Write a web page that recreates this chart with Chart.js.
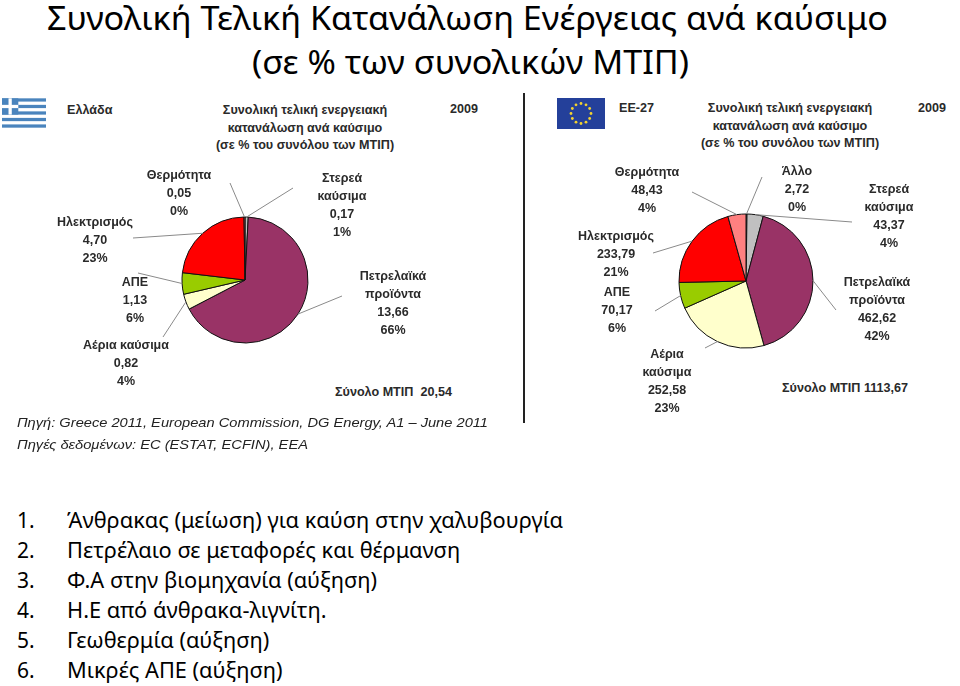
<!DOCTYPE html>
<html>
<head>
<meta charset="utf-8">
<script src="https://cdn.jsdelivr.net/npm/chart.js@4.4.1/dist/chart.umd.min.js"></script>
<style>
  body { margin: 0; background: #fff; }
  #page { position: relative; width: 960px; height: 686px; overflow: hidden; background: #fff; }
  .abs { position: absolute; white-space: nowrap; }
  .fit { display: inline-block; transform-origin: 0 50%; }
  .slide { font-family: "Noto Sans", "Open Sans", sans-serif; color: #000; }
  .box { font-family: "Liberation Sans", Arial, sans-serif; font-weight: bold; font-size: 12.6px; color: #2a2a2a; }
  .src { font-family: "Liberation Sans", Arial, sans-serif; font-style: italic; font-size: 13.5px; color: #222; }
  canvas { position: absolute; }
</style>
</head>
<body>
<div id="page">
  <!-- slide title -->
  <div class="abs slide" style="left:47px; top:-4px; font-size:33px; line-height:44px;"><span class="fit" data-w="841">Συνολική Τελική Κατανάλωση Ενέργειας ανά καύσιμο</span></div>
  <div class="abs slide" style="left:252px; top:40px; font-size:33px; line-height:44px;"><span class="fit" data-w="437">(σε % των συνολικών ΜΤΙΠ)</span></div>

  <!-- Greece panel -->
  <svg class="abs" style="left:2px; top:98px;" width="44" height="30" viewBox="0 0 27 18">
    <rect width="27" height="18" fill="#4a84bd"/>
    <g fill="#fff">
      <rect y="2" width="27" height="2"/><rect y="6" width="27" height="2"/>
      <rect y="10" width="27" height="2"/><rect y="14" width="27" height="2"/>
    </g>
    <rect width="10" height="10" fill="#4a84bd"/>
    <rect x="4" width="2" height="10" fill="#fff"/>
    <rect y="4" width="10" height="2" fill="#fff"/>
  </svg>
  <div class="abs box" style="left:67px; top:103px;">Ελλάδα</div>
  <div class="abs box" style="left:450px; top:102px;">2009</div>
  <div class="abs box" style="left:155px; width:300px; top:102px; text-align:center; line-height:17.5px;">
    Συνολική τελική ενεργειακή<br>κατανάλωση ανά καύσιμο<br>(σε % του συνόλου των ΜΤΙΠ)
  </div>
  <div class="abs box" id="grTotal" style="left:335px; top:385px;"></div>

  <!-- separator -->
  <div class="abs" style="left:523px; top:93px; width:2px; height:330px; background:#222;"></div>

  <!-- EU panel -->
  <svg class="abs" style="left:557px; top:98px;" width="48" height="31" viewBox="0 0 48 31">
    <rect width="48" height="31" fill="#24409a"/>
    <g id="stars" fill="#f2d230"></g>
  </svg>
  <div class="abs box" style="left:619px; top:101px;">ΕΕ-27</div>
  <div class="abs box" style="left:918px; top:101px;">2009</div>
  <div class="abs box" style="left:640px; width:300px; top:100px; text-align:center; line-height:17.5px;">
    Συνολική τελική ενεργειακή<br>κατανάλωση ανά καύσιμο<br>(σε % του συνόλου των ΜΤΙΠ)
  </div>
  <div class="abs box" id="euTotal" style="left:782px; top:381px;"></div>

  <canvas id="grChart" width="520" height="330" style="left:0; top:95px;"></canvas>
  <canvas id="euChart" width="430" height="330" style="left:530px; top:95px;"></canvas>

  <!-- sources -->
  <div class="abs src" style="left:17px; top:415px;"><span class="fit" data-w="471">Πηγή: Greece 2011, European Commission, DG Energy, A1 – June 2011</span></div>
  <div class="abs src" style="left:17px; top:437px;"><span class="fit" data-w="291">Πηγές δεδομένων: EC (ESTAT, ECFIN), EEA</span></div>

  <div id="list"></div>
</div>

<script>
// ---- data ----
const grCategories = ["Στερεά\nκαύσιμα", "Πετρελαϊκά\nπροϊόντα", "Αέρια καύσιμα", "ΑΠΕ", "Ηλεκτρισμός", "Θερμότητα"];
const grValues = [0.17, 13.66, 0.82, 1.13, 4.70, 0.05];
const grPercent = [1, 66, 4, 6, 23, 0];
const grTotal = 20.54;

const euCategories = ["Άλλο", "Στερεά\nκαύσιμα", "Πετρελαϊκά\nπροϊόντα", "Αέρια\nκαύσιμα", "ΑΠΕ", "Ηλεκτρισμός", "Θερμότητα"];
const euValues = [2.72, 43.37, 462.62, 252.58, 70.17, 233.79, 48.43];
const euPercent = [0, 4, 42, 23, 6, 21, 4];
const euTotal = 1113.67;

const notes = [
  "Άνθρακας (μείωση) για καύση στην χαλυβουργία",
  "Πετρέλαιο σε μεταφορές και θέρμανση",
  "Φ.Α στην βιομηχανία (αύξηση)",
  "Η.Ε από άνθρακα-λιγνίτη.",
  "Γεωθερμία (αύξηση)",
  "Μικρές ΑΠΕ (αύξηση)"
];

// ---- styling / layout ----
const fuelColors = {
  "Άλλο": "#d9d9d9",
  "Στερεά": "#c0c0c0",
  "Πετρελαϊκά": "#993366",
  "Αέρια": "#ffffcc",
  "ΑΠΕ": "#99cc00",
  "Ηλεκτρισμός": "#ff0000",
  "Θερμότητα": "#ff8080"
};
const colorFor = c => fuelColors[c.split(/[\n ]/)[0]];

// label block centre (first line) and leader start, page coordinates
const grLabelPos = [
  { x: 342, y: 179, lx: 293, ly: 188 },
  { x: 393, y: 277, lx: 342, ly: 296 },
  { x: 126, y: 346, lx: 163, ly: 337 },
  { x: 135, y: 283, lx: 138, ly: 273 },
  { x: 95,  y: 223, lx: 133, ly: 238 },
  { x: 179, y: 176, lx: 230, ly: 183 }
];
const euLabelPos = [
  { x: 797, y: 172, lx: 762, ly: 177 },
  { x: 889, y: 190, lx: 852, ly: 222 },
  { x: 877, y: 283, lx: 836, ly: 310 },
  { x: 667, y: 355, lx: 705, ly: 348 },
  { x: 617, y: 293, lx: 655, ly: 311 },
  { x: 616, y: 237, lx: 653, ly: 253 },
  { x: 647, y: 173, lx: 692, ly: 192 }
];

const fmt = v => v.toFixed(2).replace('.', ',');

const leaderLabels = {
  id: 'leaderLabels',
  afterDraw(chart, args, opts) {
    const ctx = chart.ctx;
    const meta = chart.getDatasetMeta(0);
    const vals = chart.data.datasets[0].data;
    ctx.save();
    // leader lines
    ctx.strokeStyle = '#8a8a8a';
    ctx.lineWidth = 1;
    meta.data.forEach((arc, i) => {
      const p = opts.pos[i];
      const { x, y, startAngle, endAngle, outerRadius } = arc.getProps(['x', 'y', 'startAngle', 'endAngle', 'outerRadius'], true);
      const mid = (startAngle + endAngle) / 2;
      ctx.beginPath();
      ctx.moveTo(p.lx - opts.left, p.ly - opts.top);
      ctx.lineTo(x + Math.cos(mid) * outerRadius, y + Math.sin(mid) * outerRadius);
      ctx.stroke();
    });
    // label text
    ctx.fillStyle = '#2a2a2a';
    ctx.font = 'bold 12.5px "Liberation Sans", Arial, sans-serif';
    ctx.textAlign = 'center';
    ctx.textBaseline = 'middle';
    meta.data.forEach((arc, i) => {
      const p = opts.pos[i];
      const lines = [...chart.data.labels[i].split('\n'), fmt(vals[i]), opts.pct[i] + '%'];
      lines.forEach((t, k) => ctx.fillText(t, p.x - opts.left, p.y - opts.top + k * opts.lineH));
    });
    ctx.restore();
  }
};

function makePie(id, labels, values, pct, pos, left, top, radius, padding) {
  return new Chart(document.getElementById(id), {
    type: 'pie',
    data: {
      labels: labels,
      datasets: [{
        data: values,
        backgroundColor: labels.map(colorFor),
        borderColor: '#111',
        borderWidth: 1
      }]
    },
    options: {
      responsive: false,
      animation: false,
      radius: radius,
      layout: { padding: padding },
      plugins: {
        legend: { display: false },
        tooltip: { enabled: false },
        leaderLabels: { pos: pos, pct: pct, left: left, top: top, lineH: 18 }
      }
    },
    plugins: [leaderLabels]
  });
}

makePie('grChart', grCategories, grValues, grPercent, grLabelPos, 0, 95, 63,
  { left: 182, right: 212, top: 122, bottom: 82 });
makePie('euChart', euCategories, euValues, euPercent, euLabelPos, 530, 95, 67,
  { left: 149, right: 147, top: 119, bottom: 77 });

document.getElementById('grTotal').innerHTML = 'Σύνολο ΜΤΙΠ&nbsp;&nbsp;' + fmt(grTotal);
document.getElementById('euTotal').textContent = 'Σύνολο ΜΤΙΠ ' + fmt(euTotal);

// EU stars
const stars = document.getElementById('stars');
for (let i = 0; i < 12; i++) {
  const a = i * Math.PI / 6;
  const c = document.createElementNS('http://www.w3.org/2000/svg', 'circle');
  c.setAttribute('cx', 24 + Math.cos(a) * 10);
  c.setAttribute('cy', 15.5 + Math.sin(a) * 10);
  c.setAttribute('r', 1.4);
  stars.appendChild(c);
}

// numbered list
const list = document.getElementById('list');
notes.forEach((t, i) => {
  const top = 520 + i * 29.9 - 15;
  list.insertAdjacentHTML('beforeend',
    `<div class="abs slide" style="left:17px; top:${top}px; font-size:21px; line-height:30px;">${i + 1}.</div>` +
    `<div class="abs slide" style="left:67px; top:${top}px; font-size:21px; line-height:30px;"><span class="fit note">${t}</span></div>`);
});

// squeeze wide fallback fonts to the slide's measured text widths
document.querySelectorAll('.fit[data-w]').forEach(el => {
  const w = el.getBoundingClientRect().width;
  el.style.transform = `scaleX(${el.dataset.w / w})`;
});
const notesEls = document.querySelectorAll('.note');
const k = 496 / notesEls[0].getBoundingClientRect().width;
notesEls.forEach(el => el.style.transform = `scaleX(${k})`);
</script>
</body>
</html>
